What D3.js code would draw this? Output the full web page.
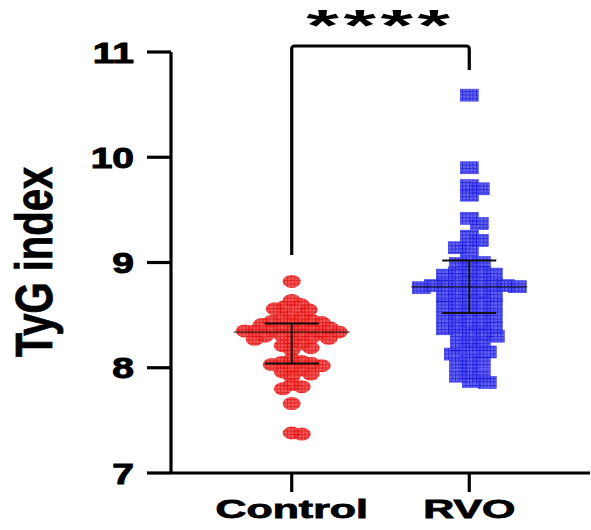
<!DOCTYPE html>
<html>
<head>
<meta charset="utf-8">
<script src="https://cdn.jsdelivr.net/npm/d3@7"></script>
<style>
  body { margin: 0; background: #fff; }
  svg { display: block; }
</style>
</head>
<body>
<svg id="chart"></svg>
<script>
// groups and read-off values
const groups = ['Control', 'RVO'];
const controlValues = [
  8.82,
  8.64, 8.60, 8.58, 8.56, 8.55,
  8.50, 8.48, 8.47, 8.45, 8.44, 8.43, 8.42, 8.41, 8.40, 8.39, 8.38, 8.37,
  8.36, 8.35, 8.35, 8.34, 8.34, 8.33, 8.32, 8.31, 8.30, 8.29, 8.28,
  8.27, 8.25, 8.23, 8.21, 8.19, 8.17,
  8.08, 8.06, 8.05, 8.04, 8.03, 8.02, 8.00, 7.98, 7.96, 7.94, 7.92,
  7.84, 7.82, 7.80,
  7.66,
  7.38, 7.37
];
const rvoValues = [
  10.59,
  9.90,
  9.73, 9.70, 9.64,
  9.42, 9.37,
  9.25, 9.21, 9.14, 9.14,
  9.02, 9.00, 8.99,
  8.92, 8.91, 8.90, 8.89, 8.88,
  8.82, 8.81, 8.80, 8.79, 8.79, 8.78, 8.78, 8.77, 8.76,
  8.72, 8.71, 8.70, 8.69, 8.68,
  8.63, 8.62, 8.61, 8.60, 8.59,
  8.52, 8.51, 8.50, 8.49, 8.48,
  8.41, 8.40, 8.39, 8.38, 8.37,
  8.33, 8.32, 8.31, 8.30,
  8.24, 8.22, 8.20,
  8.16, 8.15, 8.13,
  8.07, 8.05, 8.04,
  7.95, 7.93, 7.92,
  7.87, 7.86
];
// median with interquartile range, as drawn
const medians = [8.34, 8.77];
const lowerQ = [8.04, 8.52];
const upperQ = [8.42, 9.02];
const yTicks = [7, 8, 9, 10, 11];
const significance = '****';

const width = 591, height = 530;
const svg = d3.select('#chart').attr('width', width).attr('height', height);

const y = d3.scaleLinear().domain([7, 11]).range([473, 52]);
const x = d3.scalePoint().domain(groups).range([171, 590]).padding(0.68);

const font = '"Liberation Sans", Arial, sans-serif';

// hatch patterns for the markers
const defs = svg.append('defs');
function hatch(id, fill, line) {
  const p = defs.append('pattern')
    .attr('id', id)
    .attr('patternUnits', 'userSpaceOnUse')
    .attr('width', 3.5).attr('height', 3.5);
  p.append('rect').attr('width', 3.5).attr('height', 3.5).attr('fill', fill);
  p.append('path').attr('d', 'M0,0.5H3.5M0.5,0V3.5')
    .attr('stroke', line).attr('stroke-width', 1);
}
hatch('hatchRed', '#f44848', '#e01010');
hatch('hatchBlue', '#5656f4', '#1a1ad8');

// simple beeswarm: nearest free horizontal offset
function swarm(values, cx, ax, ay) {
  const placed = [];
  const sorted = values.slice().sort((a, b) => d3.descending(a, b));
  sorted.forEach(v => {
    const py = y(v);
    let off = 0;
    for (let k = 0; k < 400; k++) {
      const cand = (k % 2 ? 1 : -1) * Math.ceil(k / 2);
      const ok = placed.every(p => {
        const dx = (p.x - (cx + cand)) / ax, dy = (p.y - py) / ay;
        return dx * dx + dy * dy >= 1;
      });
      if (ok) { off = cand; break; }
    }
    placed.push({ x: cx + off, y: py, v });
  });
  return placed;
}

const ctrlPts = swarm(controlValues, x('Control'), 10, 8);
const rvoPts = swarm(rvoValues, x('RVO'), 11.5, 8.5);

svg.append('g').selectAll('ellipse')
  .data(ctrlPts)
  .enter().append('ellipse')
  .attr('cx', d => d.x).attr('cy', d => d.y)
  .attr('rx', 9).attr('ry', 6.5)
  .attr('fill', 'url(#hatchRed)')
  .attr('fill-opacity', 0.9);

svg.append('g').selectAll('rect')
  .data(rvoPts)
  .enter().append('rect')
  .attr('x', d => d.x - 9).attr('y', d => d.y - 6)
  .attr('width', 18).attr('height', 12)
  .attr('fill', 'url(#hatchBlue)')
  .attr('stroke', '#3a3af0').attr('stroke-width', 0.6)
  .attr('fill-opacity', 0.9);

// median and IQR
const summary = groups.map((g, i) => ({ g, med: medians[i], lo: lowerQ[i], hi: upperQ[i] }));
const sg = svg.append('g').attr('stroke', '#111').attr('stroke-width', 2);
summary.forEach(s => {
  const cx = x(s.g);
  sg.append('line').attr('x1', cx - 58).attr('x2', cx + 58).attr('y1', y(s.med)).attr('y2', y(s.med)).attr('stroke-width', 1.5).attr('stroke-opacity', 0.7);
  sg.append('line').attr('x1', cx).attr('x2', cx).attr('y1', y(s.lo)).attr('y2', y(s.hi));
  sg.append('line').attr('x1', cx - 27).attr('x2', cx + 27).attr('y1', y(s.lo)).attr('y2', y(s.lo));
  sg.append('line').attr('x1', cx - 27).attr('x2', cx + 27).attr('y1', y(s.hi)).attr('y2', y(s.hi));
});

// axes
const axisW = 3.2;
svg.append('line')
  .attr('x1', 171).attr('x2', 171).attr('y1', y(11)).attr('y2', y(7))
  .attr('stroke', '#000').attr('stroke-width', axisW);
svg.append('line')
  .attr('x1', 171).attr('x2', 590).attr('y1', y(7)).attr('y2', y(7))
  .attr('stroke', '#000').attr('stroke-width', axisW);

const yt = svg.append('g');
yTicks.forEach(t => {
  yt.append('line').attr('x1', 147).attr('x2', 171).attr('y1', y(t)).attr('y2', y(t))
    .attr('stroke', '#000').attr('stroke-width', axisW);
  yt.append('text')
    .attr('transform', `translate(134,${y(t) + 10.5}) scale(1.3,1)`)
    .attr('text-anchor', 'end')
    .attr('stroke', '#000').attr('stroke-width', 1)
    .style('font-family', font).style('font-weight', 'bold').style('font-size', '30px')
    .text(t);
});

const xt = svg.append('g');
groups.forEach(g => {
  xt.append('line').attr('x1', x(g)).attr('x2', x(g)).attr('y1', y(7)).attr('y2', 492)
    .attr('stroke', '#000').attr('stroke-width', axisW);
  xt.append('text')
    .attr('transform', `translate(${x(g)},518) scale(1.65,1)`)
    .attr('text-anchor', 'middle')
    .attr('stroke', '#000').attr('stroke-width', 0.8)
    .style('font-family', font).style('font-weight', 'bold').style('font-size', '26px')
    .text(g);
});

// y title
svg.append('text')
  .attr('transform', 'translate(52,262) scale(1.3,1) rotate(-90)')
  .attr('text-anchor', 'middle')
  .attr('stroke', '#000').attr('stroke-width', 0.6)
  .style('font-family', font).style('font-weight', 'bold').style('font-size', '40px')
  .text('TyG index');

// significance bracket
const bx0 = x('Control'), bx1 = x('RVO'), by = 46;
svg.append('path')
  .attr('d', `M${bx0},255V${by + 3}Q${bx0},${by} ${bx0 + 3},${by}H${bx1 - 3}Q${bx1},${by} ${bx1},${by + 3}V70`)
  .attr('fill', 'none').attr('stroke', '#000').attr('stroke-width', 3.2);
svg.append('text')
  .attr('transform', `translate(${(bx0 + bx1) / 2},41) scale(1.9,1)`)
  .attr('text-anchor', 'middle')
  .style('font-family', font).style('font-weight', 'bold').style('font-size', '44px')
  .style('letter-spacing', '2.4px')
  .text(significance);
</script>
</body>
</html>
